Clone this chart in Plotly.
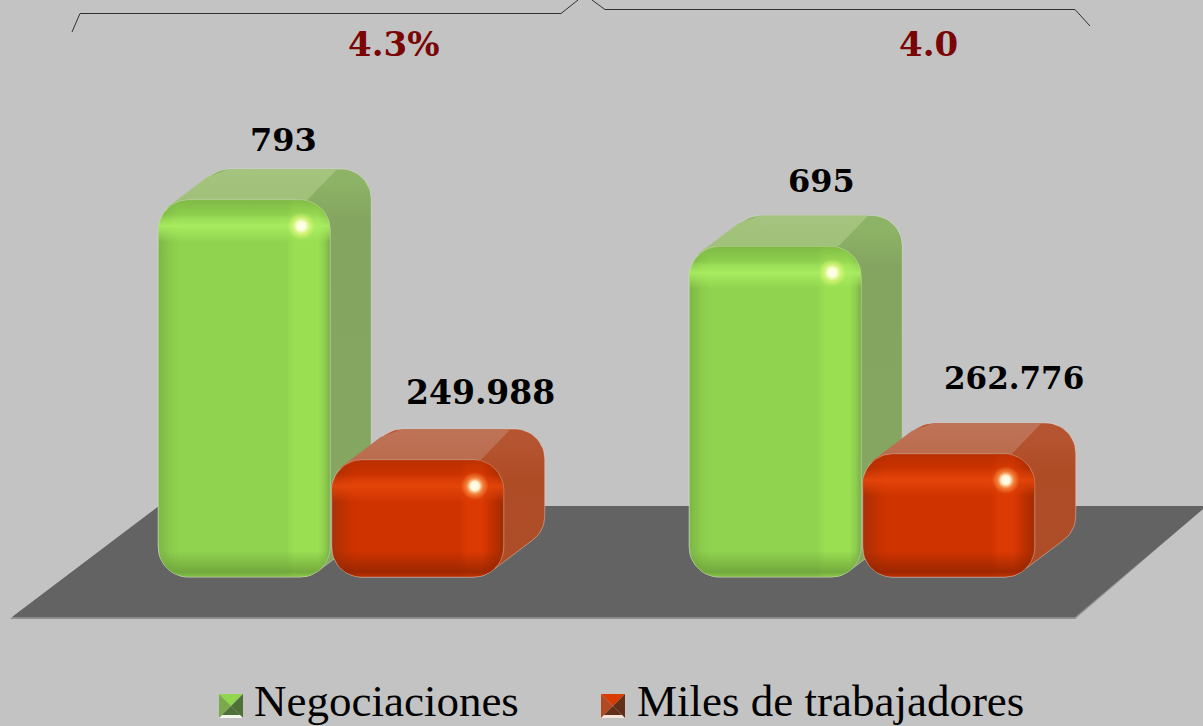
import numpy as np
import plotly.graph_objects as go

# ---- data ----
categories = ["Periodo 1", "Periodo 2"]
negociaciones = [793, 695]
trabajadores = [249.988, 262.776]   # miles de trabajadores
bracket_labels = ["4.3%", "4.0"]
series_names = ["Negociaciones", "Miles de trabajadores"]

# ---- layout constants (pixels of the 1203x726 page) ----
W, H = 1203, 726
BASE = 577
K1 = 377 / 793          # px per unit, Negociaciones
K2 = 117 / 249.988      # px per unit, trabajadores
GROUP_X = [331, 862]
BW = 172
GAP = 1.5
DX, DY = 41, 31
R = 30
BG = "#c3c3c3"
DARK = "#7a0505"
SERIF = "Liberation Serif"
BOLD = "DejaVu Serif"

GREEN = dict(
    side=["#86a762", "#84a560", "#8db366"], top=["#9fc078", "#a5c47f"],
    h=[(0, "#7fb548"), (12, "#8acb4c"), (22, "#90d34f"), (128, "#90d34f"), (136, "#9ade52"),
       (160, "#9ade52"), (167, "#8ccb4e"), (172, "#7aac48")],
    rgb_band="170,238,98", rgb_foot="104,155,55", rgb_rim="120,175,65",
    line="rgba(225,232,215,0.45)", spot="235,250,130",
)
RED = dict(
    side=["#ad4e28", "#ae4c26", "#b55430"], top=["#b96a4c", "#bf7357"],
    h=[(0, "#a93008"), (14, "#c23200"), (24, "#cf3300"), (128, "#cf3300"), (136, "#dc3a03"),
       (150, "#dc3a03"), (160, "#c23000"), (172, "#a02c02")],
    rgb_band="230,70,10", rgb_foot="140,35,0", rgb_rim="175,45,0",
    line="rgba(235,215,205,0.45)", spot="255,170,90",
)


def rounded(x0, x1, top, u, r=R):
    """Rounded rectangle from data height `top` down to 0; u = data units per px."""
    pts = []
    t = np.linspace(0, np.pi / 2, 14)
    for cx, cy, a0 in [
        (x1 - r, top - r * u, 0),
        (x0 + r, top - r * u, np.pi / 2),
        (x0 + r, r * u, np.pi),
        (x1 - r, r * u, 3 * np.pi / 2),
    ]:
        for a in t + a0:
            pts.append((cx + r * np.cos(a), cy + r * u * np.sin(a)))
    return pts


def hull(points):
    p = sorted(set(points))
    def half(seq):
        out = []
        for q in seq:
            while len(out) > 1 and (out[-1][0] - out[-2][0]) * (q[1] - out[-2][1]) - (out[-1][1] - out[-2][1]) * (q[0] - out[-2][0]) <= 0:
                out.pop()
            out.append(q)
        return out[:-1]
    return half(p) + half(p[::-1])


def area(pts, yaxis, grad=None, color=None, line=None):
    xs = [q[0] for q in pts] + [pts[0][0]]
    ys = [q[1] for q in pts] + [pts[0][1]]
    tr = dict(x=xs, y=ys, mode="lines", fill="toself", yaxis=yaxis, hoverinfo="skip", showlegend=False,
              line=dict(width=1 if line else 0, color=line or "rgba(0,0,0,0)"))
    if grad:
        tr["fillgradient"] = grad
        tr["fillcolor"] = "rgba(0,0,0,0)"
    else:
        tr["fillcolor"] = color
    return go.Scatter(**tr)


def grad(kind, stops):
    return dict(type=kind, colorscale=[[float(a), c] for a, c in stops])


def bar3d(x0, value, yaxis, u, pal):
    x1 = x0 + BW
    du = DY * u
    front = rounded(x0, x1, value, u)
    back = [(a + DX, b + du) for a, b in front]
    out = []
    hpx = value / u + DY
    # body (side face + silhouette)
    out.append(area(hull(front + back), yaxis, line=pal["line"], grad=grad("vertical", [
        (0, pal["side"][0]),
        (1 - 50 / hpx, pal["side"][1]),
        (1 - 14 / hpx, pal["side"][2]),
        (1, pal["side"][2]),
    ])))
    # top face
    k = 8
    top_pts = [
        (x0 + k, value - k * u), (x0 + k + DX, value + du - k * u),
        (x0 + R + DX, value + du), (x1 + 7, value + du),
        (x1 - 23, value), (x0 + R, value),
    ]
    out.append(area(top_pts, yaxis, grad=grad("vertical", [(0, pal["top"][0]), (1, pal["top"][1])])))
    # front face: horizontal shading
    out.append(area(front, yaxis, line=pal["line"], grad=grad("horizontal", [(a / BW, c) for a, c in pal["h"]])))
    # front face: vertical shading (foot, rim and lit band), fading within one hue
    h = value / u
    f, b, m = pal["rgb_foot"], pal["rgb_band"], pal["rgb_rim"]
    out.append(area(front, yaxis, grad=grad("vertical", [
        (0, f"rgba({f},0.3)"), (5 / h, f"rgba({f},0.75)"), (26 / h, f"rgba({f},0)"),
    ] + [
        (26 / h + 1e-4, f"rgba({b},0)"), (1 - 42 / h, f"rgba({b},0)"), (1 - 26 / h, f"rgba({b},0.9)"),
        (1 - 18 / h, f"rgba({b},0.35)"), (1 - 13 / h, f"rgba({m},0.2)"), (1, f"rgba({m},0.7)"),
    ])))
    # specular spot
    cx, cy = x1 - 29, value - 26 * u
    a = np.linspace(0, 2 * np.pi, 40)
    spot = [(cx + 14 * np.cos(t), cy + 14 * u * np.sin(t)) for t in a[:-1]]
    s = pal["spot"]
    out.append(area(spot, yaxis, grad=grad("radial", [
        (0, "rgba(255,255,240,1)"), (0.32, "rgba(255,255,225,0.95)"), (0.62, f"rgba({s},0.55)"), (1, f"rgba({s},0)"),
    ])))
    return out


U1, U2 = 1 / K1, 1 / K2
fig = go.Figure()

# plain bars carry the values; 3D faces are built on top of them from the same values
xs_neg = [g - GAP / 2 - BW / 2 for g in GROUP_X]
xs_tra = [g + GAP / 2 + BW / 2 for g in GROUP_X]
fig.add_trace(go.Bar(x=xs_neg, y=negociaciones, name=series_names[0], width=BW - 2 * R, marker_color="#90d34f",
                     marker_line_width=0, yaxis="y", showlegend=False, hoverinfo="skip"))
fig.add_trace(go.Bar(x=xs_tra, y=trabajadores, name=series_names[1], width=BW - 2 * R, marker_color="#cf3300",
                     marker_line_width=0, yaxis="y2", showlegend=False, hoverinfo="skip"))

for g, v in zip(GROUP_X, negociaciones):
    for t in bar3d(g - GAP / 2 - BW, v, "y", U1, GREEN):
        fig.add_trace(t)
for g, v in zip(GROUP_X, trabajadores):
    for t in bar3d(g + GAP / 2, v, "y2", U2, RED):
        fig.add_trace(t)


def px(x):
    return x / W


def py(y):
    return 1 - y / H


def poly(points, fill, line=None, layer="below"):
    d = "M" + " L".join(f"{px(a):.5f},{py(b):.5f}" for a, b in points) + " Z"
    return dict(type="path", path=d, xref="paper", yref="paper", fillcolor=fill, layer=layer,
                line=dict(width=0 if not line else 1, color=line or "rgba(0,0,0,0)"))


def polyline(points):
    d = "M" + " L".join(f"{px(a):.5f},{py(b):.5f}" for a, b in points)
    return dict(type="path", path=d, xref="paper", yref="paper", line=dict(color="#303030", width=1), layer="below")


shapes = [
    poly([(10, 619), (159, 506), (1203, 506), (1203, 509), (1075, 619)], "#8d8d8d"),
    poly([(12, 617), (159, 506), (1203, 506), (1203, 509), (1075, 617)], "#636363"),
    polyline([(72, 32), (80, 13.5), (561, 13.5), (578, 0)]),
    polyline([(592, 0), (605, 9.5), (1075, 9.5), (1090, 26)]),
]


def swatch(x, top, left, right, foot):
    s = 24
    y = 694
    c = (x + s / 2, y + s / 2)
    return [
        poly([(x, y), (x + s, y), c], top, layer="above"),
        poly([(x, y), c, (x, y + s)], left, layer="above"),
        poly([(x + s, y), (x + s, y + s), c], right, layer="above"),
        poly([(x, y + s), (x + s, y + s), c], right, layer="above"),
        poly([(x, y + s), (x + 3, y + s - 3), (x + s - 3, y + s - 3), (x + s, y + s)], foot, layer="above"),
    ]


shapes += swatch(219, "#92d650", "#7aaa4c", "#4f7038", "#f4f8ee")
shapes += swatch(601, "#d93c02", "#b04a22", "#62301a", "#f8e4d8")

annotations = []


def label(x, y, text, font, color="#000000", anchor="center", size=33):
    annotations.append(dict(x=x, y=y, xref="x", yref="paper", text=text, showarrow=False, xanchor=anchor, yanchor="middle",
                            font=dict(family=font, size=size, color=color, weight="bold" if font == BOLD else "normal")))


for x, t in zip([393, 928], bracket_labels):
    label(x, py(44), t, BOLD, DARK, size=34)
for x, y, v in zip([283, 821], [140, 181], negociaciones):
    label(x, py(y), str(v), BOLD, size=32)
for x, y, v, s in zip([480, 1014], [392, 378], trabajadores, [33, 31]):
    label(x, py(y), f"{v:.3f}", BOLD, size=s)
label(252, py(701), series_names[0], SERIF, anchor="left", size=45)
label(635, py(701), series_names[1], SERIF, anchor="left", size=45)

hidden = dict(visible=False, showgrid=False, zeroline=False, fixedrange=True)
fig.update_layout(
    width=W, height=H, autosize=False,
    margin=dict(l=0, r=0, t=0, b=0),
    paper_bgcolor=BG, plot_bgcolor=BG,
    barmode="overlay",
    showlegend=False,
    xaxis=dict(range=[0, W], **hidden),
    yaxis=dict(range=[(BASE - H) / K1, BASE / K1], **hidden),
    yaxis2=dict(range=[(BASE - H) / K2, BASE / K2], overlaying="y", side="right", **hidden),
    shapes=shapes,
    annotations=annotations,
)

fig.write_html("out.html", config=dict(displayModeBar=False),
               post_script="document.body.style.margin='0';document.body.style.overflow='hidden';")
